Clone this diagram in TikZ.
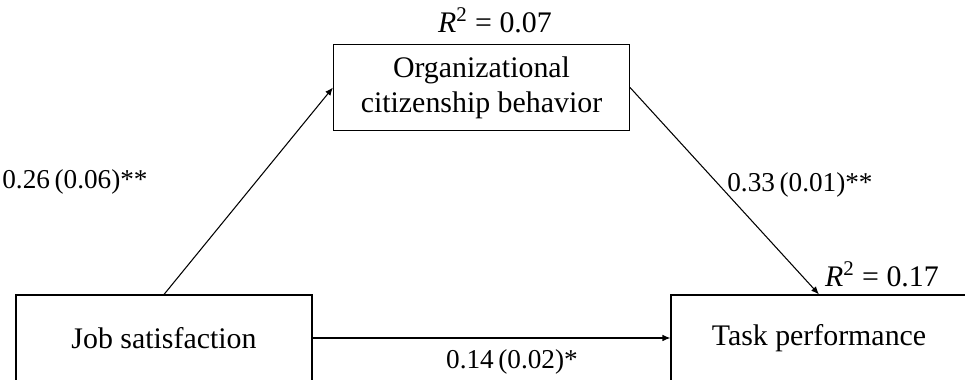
\documentclass[tikz,border=0pt]{standalone}
\usepackage{fontspec}
\setmainfont{Liberation Serif}
\usetikzlibrary{arrows.meta}

\begin{document}
\begin{tikzpicture}[
  varbox/.style={draw, line width=0.6pt, minimum width=5.92cm, minimum height=1.72cm, align=center, inner sep=0pt, font=\fontsize{17}{20}\selectfont},
  rsq/.style={font=\fontsize{17}{20}\selectfont, inner sep=0pt},
  coef/.style={font=\fontsize{15.5}{18}\selectfont, inner sep=0pt},
  path/.style={line width=0.6pt, -{Latex[length=1.6mm, width=1.3mm]}}
]
\useasboundingbox (0,0) rectangle (19.3,7.6);
\node[varbox] (ocb) at (9.63,5.85) {Organizational\\citizenship behavior};
\node[varbox] (js) at (3.28,0.84) {Job satisfaction};
\node[varbox] (tp) at (16.38,0.84) {Task performance};
\node[rsq] (r2ocb) at (9.9,7.2) {\textit{R}\textsuperscript{2} = 0.07};
\node[rsq] (r2tp) at (17.64,2.12) {\textit{R}\textsuperscript{2} = 0.17};
\node[coef] (a) at (1.5,3.96) {0.26\,(0.06)**};
\node[coef] (b) at (16.0,3.9) {0.33\,(0.01)**};
\node[coef] (c) at (10.24,0.36) {0.14\,(0.02)*};
\draw[path] (js.north) -- (ocb.west);
\draw[path] (ocb.east) -- (tp.north);
\draw[path] (js.east) -- (tp.west);
\end{tikzpicture}
\end{document}
